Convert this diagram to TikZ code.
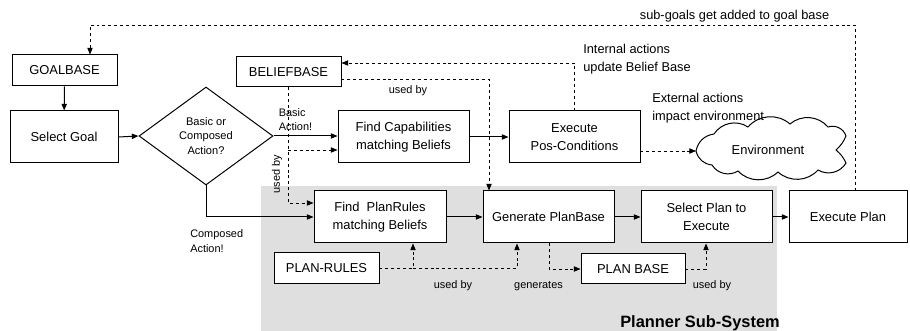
\documentclass[tikz,border=0pt]{standalone}
\usepackage{fontspec}
\setmainfont{Liberation Sans}
\usetikzlibrary{arrows.meta,shapes.geometric,calc}
\begin{document}
\begin{tikzpicture}[x=0.75pt,y=-0.75pt,
  box/.style={draw,line width=0.75pt,fill=white,align=center,inner sep=0pt,
    font=\fontsize{9.7}{13.5}\selectfont},
  lbl/.style={inner sep=0pt,font=\fontsize{8.2}{11}\selectfont},
  mlbl/.style={inner sep=0pt,align=left,font=\fontsize{9.6}{13.5}\selectfont},
  sl/.style={line width=0.75pt,-{Triangle[length=5pt,width=4pt]}},
  dl/.style={line width=0.6pt,dash pattern=on 2.2pt off 2.2pt,-{Triangle[length=5pt,width=4pt]}},
  cloudline/.style={line width=0.75pt,line join=miter}]
\useasboundingbox (0,0) rectangle (910,331);
% planner region
\fill[gray!25] (261,186) rectangle (777,331);
\node[font=\bfseries\fontsize{12.3}{14}\selectfont,inner sep=0pt] (ttl) at (700,323) {Planner Sub-System};

% boxes
\node[box,minimum width=78.75pt,minimum height=23.25pt] (goal) at (64.5,70.5) {GOALBASE};
\node[box,minimum width=81pt,minimum height=39pt] (sel) at (64,137) {Select Goal};
\node[draw,line width=0.75pt,diamond,minimum width=100.5pt,minimum height=73.5pt,inner sep=0pt,
  align=center,font=\fontsize{8.3}{11}\selectfont] (dia) at (206,136) {Basic or\\Composed\\Action?};
\node[box,minimum width=78.75pt,minimum height=22.5pt] (belief) at (288.5,72) {BELIEFBASE};
\node[box,minimum width=98.25pt,minimum height=39pt] (findcap) at (403.5,137) {Find Capabilities\\matching Beliefs};
\node[box,minimum width=98.25pt,minimum height=39pt] (exec) at (574.5,137) {Execute\\Pos-Conditions};
% environment cloud
\draw[cloudline] (696,151) to[bend left=35] (714,134) to[bend left=45] (748,127)
  to[bend left=45] (790,124) to[bend left=45] (828,127) to[bend left=45] (846,136)
  to[bend left=12] (836,150) to[bend left=12] (846,163) to[bend left=45] (818,170)
  to[bend left=45] (778,172) to[bend left=45] (738,171) to[bend left=45] (712,165)
  to[bend left=35] cycle;
\coordinate (envw) at (696,151);
\node[inner sep=0pt,font=\fontsize{9.7}{12}\selectfont] (env) at (768,150) {Environment};
\node[box,minimum width=99pt,minimum height=39pt] (findpr) at (380,217) {Find~~PlanRules\\matching Beliefs};
\node[box,minimum width=78.75pt,minimum height=23.25pt] (planrules) at (326.5,268.5) {PLAN-RULES};
\node[box,minimum width=98.25pt,minimum height=39pt] (gen) at (548.5,217) {Generate PlanBase};
\node[box,minimum width=98.25pt,minimum height=39pt] (selplan) at (706.5,217) {Select Plan to\\Execute};
\node[box,minimum width=88.5pt,minimum height=39pt] (execplan) at (848,217) {Execute Plan};
\node[box,minimum width=78pt,minimum height=22.5pt] (planbase) at (633,269) {PLAN BASE};

% helper coordinates
\coordinate (t1) at (855,25);
\coordinate (t2) at (90,25);
\coordinate (b1) at (574,63);
\coordinate (b2) at (489,79);
\coordinate (u1) at (288,150);
\coordinate (u2) at (288,203);
\coordinate (c1) at (206,217);
\coordinate (p1) at (413,268);
\coordinate (p2) at (517,268);
\coordinate (g1) at (549,269);
\coordinate (q1) at (706,269);

% solid connectors
\draw[sl] (goal) -- (sel);
\draw[sl] (sel.east) -- (dia.west);
\draw[sl] (dia.east) -- (dia.east -| findcap.west);
\draw[sl] (findcap.east) -- (exec.west);
\draw[sl] (dia.south) -- (c1) -- (findpr.west);
\draw[sl] (findpr.east) -- (gen.west);
\draw[sl] (gen.east) -- (selplan.west);
\draw[sl] (selplan.east) -- (execplan.west);

% dashed connectors
\draw[dl] (execplan.north -| t1) -- (t1) -- (t2) -- (t2 |- goal.north);
\draw[dl] (exec.north -| b1) -- (b1) -- (b1 -| belief.east);
\draw[dl] (b2 -| belief.east) -- (b2) -- (b2 |- gen.north);
\draw[dl] (belief.south -| u2) -- (u2) -- (u2 -| findpr.west);
\draw[dl] (u1) -- (u1 -| findcap.west);
\draw[dl] (exec.east |- envw) -- (envw);
\draw[dl] (planrules.east |- p1) -- (p1) -- (p1 |- findpr.south);
\draw[dl] (p1) -- (p2) -- (p2 |- gen.south);
\draw[dl] (gen.south -| g1) -- (g1) -- (g1 -| planbase.west);
\draw[dl] (planbase.east |- q1) -- (q1) -- (q1 |- selplan.south);

% labels
\node[mlbl,anchor=center] (lsg) at (734.5,16) {sub-goals get added to goal base};
\node[mlbl,anchor=west] (lint) at (583,59) {Internal actions\\update Belief Base};
\node[mlbl,anchor=west] (lext) at (652,108) {External actions\\impact environment};
\node[lbl,align=left,anchor=west] (lbasic) at (278.5,119.5) {Basic\\Action!};
\node[lbl,align=left,anchor=west] (lcomp) at (190,241) {Composed\\Action!};
\node[lbl,rotate=90] (lub1) at (277,174) {used by};
\node[lbl] (lub2) at (408,91) {used by};
\node[lbl] (lub3) at (453,286) {used by};
\node[lbl] (lgen) at (538.5,286) {generates};
\node[lbl] (lub4) at (712,286) {used by};
\end{tikzpicture}
\end{document}
